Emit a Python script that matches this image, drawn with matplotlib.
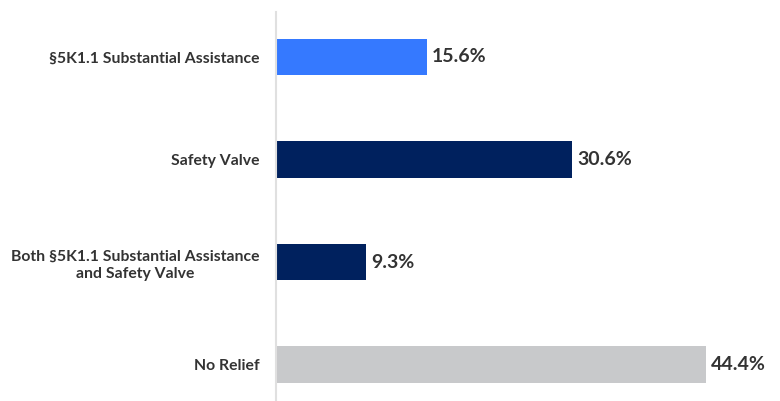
import matplotlib
matplotlib.use("Agg")
import matplotlib.pyplot as plt

plt.rcParams['font.family'] = ['Lato', 'DejaVu Sans']

categories = ['§5K1.1 Substantial Assistance', 'Safety Valve',
              'Both §5K1.1 Substantial Assistance\nand Safety Valve', 'No Relief']
values = [15.6, 30.6, 9.3, 44.4]
colors = ['#3579FF', '#00215E', '#00215E', '#C8C9CB']

fig = plt.figure(figsize=(7.8, 4.01), dpi=100)
ax = fig.add_axes([276 / 780, 0, 1 - 276 / 780, 389 / 401])

y = range(len(categories))
ax.barh(y, values, height=0.36, color=colors)

for i, v in enumerate(values):
    ax.annotate(f'{v}%', (v, i), xytext=(3.5, 0), textcoords='offset points',
                va='center', ha='left', fontsize=14, fontweight='bold', color='#333333')

ax.set_yticks(list(y))
ax.set_yticklabels(categories, fontsize=11.3, fontweight='bold', color='#333333',
                   multialignment='center', linespacing=1.35)
ax.tick_params(axis='y', length=0, pad=12)
ax.set_xticks([])
ax.set_xlim(0, 52.07)
ax.set_ylim(3.356, -0.439)

for s in ['top', 'right', 'bottom']:
    ax.spines[s].set_visible(False)
ax.spines['left'].set_color('#E0E0E0')
ax.spines['left'].set_linewidth(1.5)

fig.savefig('out.png', dpi=100)
